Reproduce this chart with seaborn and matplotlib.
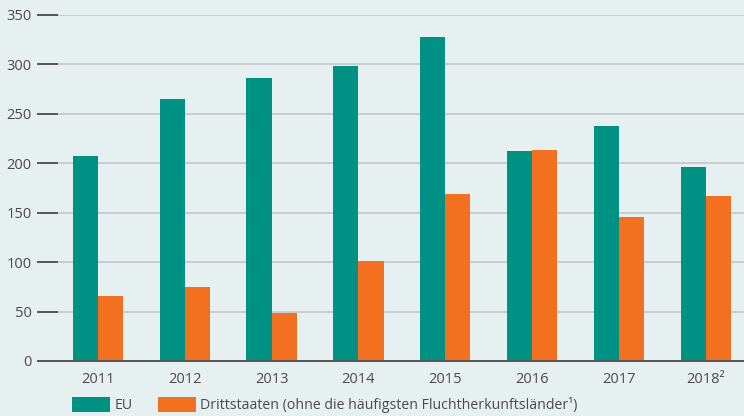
import seaborn as sns
import numpy as np
import pandas as pd
import matplotlib.pyplot as plt

years = ["2011", "2012", "2013", "2014", "2015", "2016", "2017", "2018²"]
eu = [207, 265, 286, 298, 328, 212, 238, 196]
drittstaaten = [66, 75, 49, 101, 169, 213, 146, 167]
series = ["EU", "Drittstaaten (ohne die häufigsten Fluchtherkunftsländer¹)"]
colors = ["#009185", "#f37021"]

bg = "#e7f0f1"
text_color = "#4a4a4a"

df = pd.DataFrame({
    "Jahr": years * 2,
    "Wert": eu + drittstaaten,
    "Gruppe": [series[0]] * len(years) + [series[1]] * len(years),
})

def plot_chart():
    sns.set_style("white")
    plt.rcParams["font.family"] = ["Open Sans", "DejaVu Sans"]

    fig = plt.figure(figsize=(7.44, 4.16), dpi=100, facecolor=bg)
    ax = fig.add_axes([58 / 744, 55 / 416, 686 / 744, 346 / 416])
    ax.set_facecolor(bg)

    sns.barplot(data=df, x="Jahr", y="Wert", hue="Gruppe", palette=colors,
                width=0.58, gap=0, saturation=1, ax=ax, legend=True,
                linewidth=0, edgecolor="none")

    ax.set_ylim(0, 350)
    ax.set_xlim(-0.46, 7.44)
    ax.set_yticks(np.arange(0, 351, 50))
    ax.yaxis.grid(True, color="#c4c9cb", linewidth=1.3)
    ax.set_axisbelow(True)

    for s in ["top", "right", "left"]:
        ax.spines[s].set_visible(False)
    ax.spines["bottom"].set_color("#555555")
    ax.spines["bottom"].set_linewidth(1.4)
    ax.spines["bottom"].set_zorder(5)

    ax.tick_params(axis="y", left=True, length=15, width=1.4, color="#555555",
                   labelsize=10.5, labelcolor=text_color, pad=4)
    ax.tick_params(axis="x", bottom=False, length=0, labelsize=10.5,
                   labelcolor=text_color, pad=8)
    ax.set_xlabel("")
    ax.set_ylabel("")

    ax.get_legend().remove()
    handles, labels = ax.get_legend_handles_labels()
    fig.legend(handles, labels, loc="center left",
               bbox_to_anchor=(66 / 744, 11 / 416), ncol=2, frameon=False,
               fontsize=10.2, labelcolor=text_color, handlelength=2.7,
               handleheight=1.2, handletextpad=0.3, columnspacing=1.8,
               borderaxespad=0)

    fig.savefig("out.png", dpi=100, facecolor=bg)

if __name__ == "__main__":
    plot_chart()
